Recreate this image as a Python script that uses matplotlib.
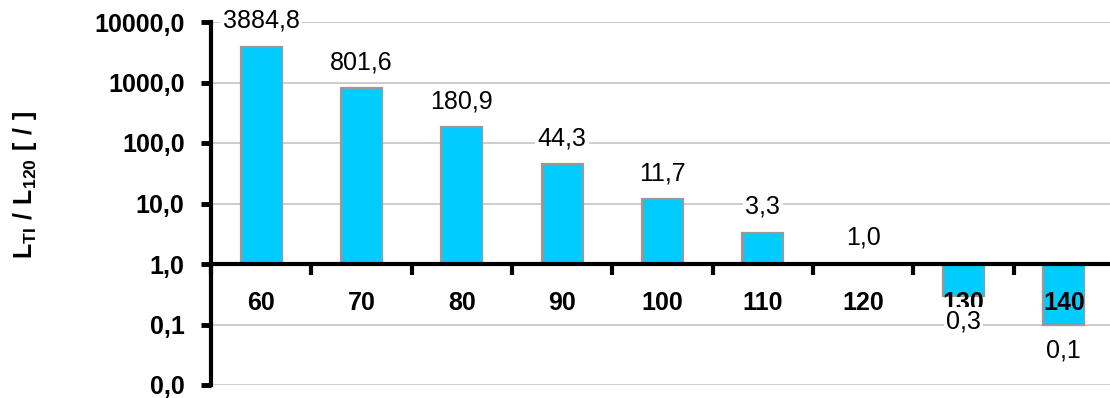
import matplotlib
matplotlib.use("Agg")
import matplotlib.pyplot as plt
import numpy as np

# Temperature classes and relative lifetime L_TI / L_120
categories = ["60", "70", "80", "90", "100", "110", "120", "130", "140"]
ratios = [3884.8, 801.6, 180.9, 44.3, 11.7, 3.3, 1.0, 0.3, 0.1]
y_ticks = [0.01, 0.1, 1, 10, 100, 1000, 10000]
y_tick_labels = ["0,0", "0,1", "1,0", "10,0", "100,0", "1000,0", "10000,0"]

plt.rcParams["font.family"] = ["Liberation Sans", "DejaVu Sans"]
plt.rcParams["mathtext.fontset"] = "custom"
plt.rcParams["mathtext.bf"] = "Liberation Sans:bold"
plt.rcParams["mathtext.rm"] = "Liberation Sans"

fig = plt.figure(figsize=(11.1, 3.98), dpi=100)
ax = fig.add_axes([211 / 1110, 1 - 385 / 398, 903 / 1110, 363 / 398])

x = np.arange(len(categories))
base = 1.0
heights = [v - base for v in ratios]
ax.bar(x, heights, bottom=base, width=0.41, color="#00CCFF",
       edgecolor="#999999", linewidth=1.6, zorder=3)

ax.set_yscale("log")
ax.set_ylim(0.01, 10000)
ax.set_xlim(-0.5, len(categories) - 0.5)

ax.set_yticks(y_ticks)
ax.set_yticklabels(y_tick_labels, fontsize=18, fontweight="bold")
ax.yaxis.set_minor_locator(matplotlib.ticker.NullLocator())
ax.tick_params(axis="y", direction="out", length=7, width=3.5, pad=12)

# horizontal grid
ax.grid(axis="y", which="major", color="#c0c0c0", linewidth=1.1, zorder=0)
ax.set_axisbelow(True)

# category axis sits on the 1,0 line
for s in ["top", "right"]:
    ax.spines[s].set_visible(False)
ax.spines["bottom"].set_position(("data", 1.0))
ax.spines["bottom"].set_linewidth(3)
ax.spines["bottom"].set_zorder(4)
ax.spines["left"].set_linewidth(3)

ax.set_xticks(np.arange(len(categories) + 1) - 0.5)
ax.set_xticklabels([])
ax.tick_params(axis="x", which="major", direction="out", length=8, width=3)

# category names below the 1,0 line, drawn above the bars
for xi, name in zip(x, categories):
    ax.annotate(name, xy=(xi, base), xytext=(0, -39),
                textcoords="offset pixels", ha="center", va="center",
                fontsize=18, fontweight="bold", zorder=5)

# value labels
for xi, v in zip(x, ratios):
    off = 26 if v >= 1 else -26
    ax.annotate(f"{v:.1f}".replace(".", ","), xy=(xi, v), xytext=(0, off),
                textcoords="offset pixels", ha="center", va="center",
                fontsize=18, zorder=6,
                bbox=dict(boxstyle="square,pad=0.1", fc="white", ec="none"))

fig.text(25 / 1110, 1 - 185 / 398,
         r"$\mathbf{L_{TI}\ /\ L_{120}\ [\ /\ ]}$",
         rotation=90, ha="center", va="center", fontsize=18)

fig.savefig("out.png", dpi=100)
